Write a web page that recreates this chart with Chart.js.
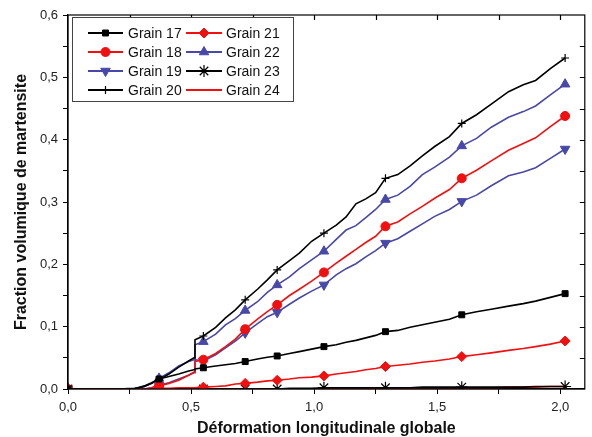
<!DOCTYPE html>
<html>
  <head>
    <title>Fraction volumique de martensite</title>
    <script src="https://cdn.jsdelivr.net/npm/chart.js"></script>
    <style>
      body { margin: 0; background: #fff; }
      canvas { display: block; }
    </style>
  </head>
  <body>
    <canvas id="myChart" width="592" height="437"></canvas>
    <script>
      // déformation longitudinale globale (axe x)
      const strain = [
        0, 0.1, 0.2, 0.27, 0.31, 0.34, 0.37, 0.41, 0.45, 0.49, 0.512, 0.516,
        0.55, 0.6, 0.64, 0.68, 0.72, 0.77, 0.81, 0.85, 0.9, 0.94, 0.99, 1.04,
        1.09, 1.13, 1.17, 1.21, 1.25, 1.29, 1.34, 1.39, 1.44, 1.49, 1.55, 1.6,
        1.66, 1.72, 1.79, 1.85, 1.9, 1.96, 2.02,
      ];
      // positions des symboles
      const markerStrain = [0, 0.37, 0.55, 0.72, 0.85, 1.04, 1.29, 1.6, 2.02];

      const grain17 = [
        0, 0, 0, 0, 0.005, 0.01, 0.016, 0.02, 0.024, 0.029, 0.031, 0.032,
        0.034, 0.037, 0.039, 0.041, 0.044, 0.048, 0.051, 0.053, 0.057, 0.06, 0.064, 0.068,
        0.071, 0.075, 0.078, 0.082, 0.086, 0.092, 0.094, 0.099, 0.103, 0.107, 0.112, 0.119,
        0.124, 0.128, 0.133, 0.137, 0.141, 0.147, 0.153,
      ];
      const grain18 = [
        0, 0, 0, 0, 0, 0.002, 0.005, 0.009, 0.014, 0.022, 0.027, 0.044,
        0.047, 0.057, 0.068, 0.08, 0.096, 0.112, 0.124, 0.135, 0.15, 0.16, 0.173, 0.187,
        0.202, 0.213, 0.224, 0.235, 0.245, 0.261, 0.268, 0.281, 0.293, 0.306, 0.32, 0.338,
        0.351, 0.366, 0.383, 0.394, 0.403, 0.421, 0.438,
      ];
      const grain19 = [
        0, 0, 0, 0, 0, 0.002, 0.006, 0.01, 0.016, 0.022, 0.026, 0.047,
        0.045, 0.055, 0.066, 0.077, 0.09, 0.105, 0.116, 0.123, 0.136, 0.146, 0.157, 0.167,
        0.183, 0.193, 0.201, 0.212, 0.222, 0.234, 0.241, 0.253, 0.265, 0.277, 0.288, 0.301,
        0.311, 0.326, 0.342, 0.348, 0.355, 0.37, 0.385,
      ];
      const grain20 = [
        0, 0, 0, 0.001, 0.004, 0.009, 0.015, 0.024, 0.035, 0.045, 0.05, 0.079,
        0.085, 0.099, 0.114, 0.127, 0.143, 0.16, 0.175, 0.191, 0.206, 0.218, 0.237, 0.25,
        0.263, 0.276, 0.297, 0.305, 0.315, 0.338, 0.344, 0.358, 0.374, 0.389, 0.405, 0.426,
        0.44, 0.457, 0.477, 0.488, 0.495, 0.514, 0.531,
      ];
      const grain21 = [
        0, 0, 0, 0, 0, 0, 0.001, 0.001, 0.002, 0.002, 0.002, 0.002,
        0.003, 0.004, 0.005, 0.008, 0.009, 0.011, 0.013, 0.014, 0.016, 0.018, 0.019, 0.021,
        0.024, 0.026, 0.028, 0.031, 0.033, 0.036, 0.038, 0.04, 0.043, 0.045, 0.048, 0.052,
        0.055, 0.058, 0.062, 0.065, 0.068, 0.072, 0.077,
      ];
      const grain22 = [
        0, 0, 0, 0, 0.004, 0.009, 0.017, 0.026, 0.037, 0.044, 0.047, 0.071,
        0.076, 0.088, 0.103, 0.113, 0.126, 0.14, 0.155, 0.167, 0.18, 0.193, 0.207, 0.221,
        0.24, 0.255, 0.262, 0.275, 0.288, 0.304, 0.311, 0.325, 0.344, 0.356, 0.372, 0.39,
        0.402, 0.42, 0.436, 0.445, 0.454, 0.472, 0.489,
      ];
      const grain23 = [
        0, 0, 0, 0, 0, 0, 0, 0, 0, 0, 0, 0,
        0, 0, 0, 0, 0, 0, 0, 0, 0.001, 0.001, 0.001, 0.002,
        0.002, 0.002, 0.002, 0.002, 0.002, 0.002, 0.002, 0.002, 0.003, 0.003, 0.003, 0.003,
        0.003, 0.003, 0.003, 0.003, 0.004, 0.004, 0.004,
      ];
      const grain24 = [
        0, 0, 0, 0, 0, 0, 0, 0, 0, 0, 0, 0,
        0, 0, 0, 0, 0, 0, 0, 0, 0, 0, 0, 0.001,
        0.001, 0.001, 0.001, 0.001, 0.001, 0.001, 0.001, 0.001, 0.002, 0.002, 0.002, 0.002,
        0.002, 0.002, 0.003, 0.003, 0.003, 0.004, 0.004,
      ];

      const xTicks = [0, 0.5, 1.0, 1.5, 2.0];
      const yTicks = [0, 0.1, 0.2, 0.3, 0.4, 0.5, 0.6];

      const BLACK = "#000000";
      const RED = "#f01010";
      const BLUE = "#4848a8";

      const fmt = (v) => v.toFixed(1).replace(".", ",");
      const isMarker = (x) => markerStrain.some((m) => Math.abs(m - x) < 1e-6);

      function serie(label, values, color, style, radius, rotation) {
        return {
          label: label,
          data: strain.map((x, i) => ({ x: x, y: values[i] })),
          borderColor: color,
          backgroundColor: color,
          borderWidth: 1.6,
          pointStyle: style || false,
          pointRotation: rotation || 0,
          pointRadius: strain.map((x) => (style && isMarker(x) ? radius : 0)),
          pointBorderWidth: style === "cross" || style === "star" ? 1.2 : 1,
          tension: 0,
        };
      }

      const datasets = [
        serie("Grain 17", grain17, BLACK, "rect", 4.2),
        serie("Grain 18", grain18, RED, "circle", 4.5),
        serie("Grain 19", grain19, BLUE, "triangle", 5.5, 180),
        serie("Grain 20", grain20, BLACK, "cross", 4),
        serie("Grain 21", grain21, RED, "rectRot", 5),
        serie("Grain 22", grain22, BLUE, "triangle", 5.5),
        serie("Grain 23", grain23, BLACK, "star", 6),
        serie("Grain 24", grain24, RED, null, 0),
      ];

      // cadre + graduations intérieures (haut et droite)
      const framePlugin = {
        id: "frame",
        afterDatasetsDraw(chart) {
          const { ctx, chartArea: a, scales } = chart;
          ctx.save();
          ctx.strokeStyle = "#000";
          ctx.lineWidth = 1.2;
          ctx.strokeRect(a.left, a.top, a.right - a.left, a.bottom - a.top);
          ctx.beginPath();
          for (let v = 0.25; v < 2.1; v += 0.25) {
            const px = Math.round(scales.x.getPixelForValue(v)) + 0.5;
            ctx.moveTo(px, a.top);
            ctx.lineTo(px, a.top + 5);
          }
          for (let k = 1; k < 12; k++) {
            const py = Math.round(scales.y.getPixelForValue(k * 0.05)) + 0.5;
            ctx.moveTo(a.right, py);
            ctx.lineTo(a.right - 5, py);
          }
          ctx.stroke();
          ctx.restore();
        },
      };

      // légende encadrée sur deux colonnes
      const legendPlugin = {
        id: "boxLegend",
        afterDraw(chart) {
          const ctx = chart.ctx;
          ctx.save();
          ctx.fillStyle = "#fff";
          ctx.fillRect(72.5, 17.5, 221, 84);
          ctx.strokeStyle = "#444";
          ctx.lineWidth = 1;
          ctx.strokeRect(72.5, 17.5, 221, 84);
          const cols = [
            { x0: 88, x1: 123, text: 128 },
            { x0: 186, x1: 222, text: 226 },
          ];
          const rows = [33, 52, 71, 90];
          const order = [0, 1, 2, 3, 4, 5, 6, 7];
          order.forEach((idx, k) => {
            const ds = chart.data.datasets[idx];
            const c = cols[Math.floor(k / 4)];
            const y = rows[k % 4];
            ctx.strokeStyle = ds.borderColor;
            ctx.fillStyle = ds.backgroundColor;
            ctx.lineWidth = 1.8;
            ctx.beginPath();
            ctx.moveTo(c.x0, y);
            ctx.lineTo(c.x1, y);
            ctx.stroke();
            if (ds.pointStyle) {
              const r = Math.max(...ds.pointRadius);
              ctx.lineWidth = ds.pointBorderWidth;
              Chart.helpers.drawPoint(
                ctx,
                { pointStyle: ds.pointStyle, radius: r, rotation: ds.pointRotation, borderWidth: ds.pointBorderWidth },
                (c.x0 + c.x1) / 2,
                y
              );
            }
            ctx.fillStyle = "#111";
            ctx.font = "14px 'Liberation Sans', Arial, sans-serif";
            ctx.textBaseline = "middle";
            ctx.fillText(ds.label, c.text, y + 1);
          });
          ctx.restore();
        },
      };

      const ctx = document.getElementById("myChart").getContext("2d");
      const chart = new Chart(ctx, {
        type: "line",
        data: { datasets: datasets },
        plugins: [framePlugin, legendPlugin],
        options: {
          responsive: false,
          animation: false,
          events: [],
          layout: { padding: { top: 15, right: 4, left: 0, bottom: 0 } },
          plugins: { legend: { display: false }, tooltip: { enabled: false } },
          scales: {
            x: {
              type: "linear",
              min: 0,
              max: 2.1,
              afterFit: (s) => { s.height = 48; },
              border: { display: true, color: "#000", width: 1.2 },
              grid: { drawOnChartArea: false, tickLength: 5, color: "#000", tickColor: "#000" },
              ticks: {
                stepSize: 0.25,
                includeBounds: false,
                autoSkip: false,
                maxRotation: 0,
                padding: 6,
                color: "#222",
                font: { family: "'Liberation Sans', Arial, sans-serif", size: 13 },
                callback: (v) => (xTicks.some((t) => Math.abs(t - v) < 1e-6) ? fmt(v) : ""),
              },
              title: {
                display: true,
                text: "Déformation longitudinale globale",
                color: "#111",
                padding: { top: 0, bottom: 0 },
                font: { family: "'Liberation Sans', Arial, sans-serif", size: 16, weight: "bold", lineHeight: 1 },
              },
            },
            y: {
              min: 0,
              max: 0.6,
              afterFit: (s) => { s.width = 68; },
              border: { display: true, color: "#000", width: 1.2 },
              grid: { drawOnChartArea: false, tickLength: 5, color: "#000", tickColor: "#000" },
              ticks: {
                stepSize: 0.05,
                autoSkip: false,
                padding: 5,
                color: "#222",
                font: { family: "'Liberation Sans', Arial, sans-serif", size: 13 },
                callback: (v) => (yTicks.some((t) => Math.abs(t - v) < 1e-6) ? fmt(v) : ""),
              },
              title: {
                display: true,
                text: "Fraction volumique de martensite",
                color: "#111",
                padding: { top: 14, bottom: 0 },
                font: { family: "'Liberation Sans', Arial, sans-serif", size: 16, weight: "bold", lineHeight: 1 },
              },
            },
          },
        },
      });
    </script>
  </body>
</html>
